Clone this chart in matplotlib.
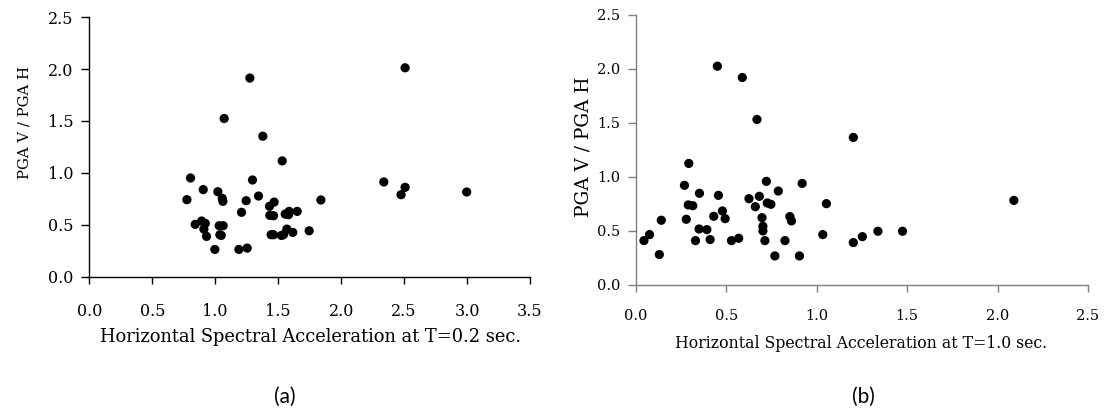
import matplotlib
matplotlib.use("Agg")
import matplotlib.pyplot as plt

# Panel (a): Horizontal spectral acceleration at T=0.2 s vs PGA V / PGA H
sa02 = [1.275, 2.508, 1.071, 1.378, 1.532, 0.804, 1.296, 2.339, 2.508, 2.476,
        2.997, 0.905, 1.021, 1.056, 1.061, 0.775, 1.246, 1.344, 1.468, 1.431,
        1.839, 1.209, 1.434, 1.463, 1.556, 1.587, 1.651, 1.582, 0.841, 0.892,
        0.921, 0.910, 0.931, 1.032, 1.063, 1.037, 1.048, 0.997, 1.188, 1.254,
        1.444, 1.463, 1.526, 1.542, 1.569, 1.616, 1.746]
ratio_a = [1.914, 2.013, 1.524, 1.353, 1.115, 0.950, 0.931, 0.912, 0.860, 0.789,
           0.815, 0.838, 0.818, 0.754, 0.725, 0.741, 0.731, 0.776, 0.718, 0.677,
           0.738, 0.619, 0.590, 0.586, 0.602, 0.628, 0.628, 0.596, 0.503, 0.535,
           0.512, 0.457, 0.387, 0.490, 0.490, 0.403, 0.396, 0.261, 0.261, 0.274,
           0.403, 0.403, 0.396, 0.403, 0.457, 0.425, 0.441]

# Panel (b): Horizontal spectral acceleration at T=1.0 s vs PGA V / PGA H
sa10 = [0.044, 0.075, 0.129, 0.140, 0.268, 0.292, 0.278, 0.289, 0.314, 0.329,
        0.351, 0.349, 0.392, 0.410, 0.430, 0.450, 0.456, 0.478, 0.493, 0.528,
        0.568, 0.588, 0.625, 0.660, 0.669, 0.682, 0.697, 0.702, 0.702, 0.713,
        0.721, 0.726, 0.746, 0.768, 0.787, 0.824, 0.851, 0.860, 0.904, 0.919,
        1.033, 1.053, 1.202, 1.202, 1.252, 1.338, 1.474, 2.090]
ratio_b = [0.407, 0.463, 0.278, 0.596, 0.920, 1.123, 0.605, 0.738, 0.731, 0.407,
           0.846, 0.515, 0.509, 0.417, 0.633, 2.025, 0.827, 0.682, 0.611, 0.407,
           0.429, 1.920, 0.796, 0.722, 1.531, 0.818, 0.620, 0.540, 0.497, 0.407,
           0.957, 0.756, 0.744, 0.265, 0.867, 0.407, 0.630, 0.590, 0.265, 0.938,
           0.463, 0.750, 1.364, 0.389, 0.444, 0.494, 0.494, 0.780]

xticks_a = [0.0, 0.5, 1.0, 1.5, 2.0, 2.5, 3.0, 3.5]
xticks_b = [0.0, 0.5, 1.0, 1.5, 2.0, 2.5]
yticks = [0.0, 0.5, 1.0, 1.5, 2.0, 2.5]

SERIF = ["DejaVu Serif"]
SANS = ["Lato", "DejaVu Sans"]

W, H = 1105, 416
fig = plt.figure(figsize=(W / 100, H / 100), dpi=100)
renderer = fig.canvas.get_renderer()

def px_axes(l, r, b, t):
    return [l / W, 1 - b / H, (r - l) / W, (b - t) / H]

ax_a = fig.add_axes(px_axes(89.3, 530, 276.5, 17.3))
ax_b = fig.add_axes(px_axes(636, 1088, 284.5, 15))

def fit_size(text, target_px, family, vertical=False):
    t = fig.text(0, 0, text, fontfamily=family, fontsize=10)
    bb = t.get_window_extent(renderer)
    t.remove()
    return 10 * target_px / bb.width

tick_size_a = fit_size("0.0", 25, SERIF)
tick_size_b = fit_size("0.0", 23, SERIF)

def style(ax, xt, color, xpad, tsize):
    for s in ("top", "right"):
        ax.spines[s].set_visible(False)
    for s in ("left", "bottom"):
        ax.spines[s].set_color(color)
        ax.spines[s].set_linewidth(1.0)
    ax.set_xlim(xt[0], xt[-1])
    ax.set_ylim(0, 2.5)
    ax.set_xticks(xt)
    ax.set_yticks(yticks)
    ax.set_xticklabels([f"{v:.1f}" for v in xt], fontfamily=SERIF, fontsize=tsize)
    ax.set_yticklabels([f"{v:.1f}" for v in yticks], fontfamily=SERIF, fontsize=tsize)
    ax.tick_params(axis="x", direction="out", length=5, width=1.0, color=color, pad=xpad)
    ax.tick_params(axis="y", direction="out", length=6, width=1.0, color=color, pad=5.5)
    ax.patch.set_alpha(0)

style(ax_a, xticks_a, "black", 14, tick_size_a)
style(ax_b, xticks_b, "#808080", 12.5, tick_size_b)

ax_a.scatter(sa02, ratio_a, s=44, color="black", edgecolors="none", zorder=3, clip_on=False)
ax_b.scatter(sa10, ratio_b, s=44, color="black", edgecolors="none", zorder=3, clip_on=False)

xl_a = "Horizontal Spectral Acceleration at T=0.2 sec."
xl_b = "Horizontal Spectral Acceleration at T=1.0 sec."
yl = "PGA V / PGA H"

ax_a.set_xlabel(xl_a, fontfamily=SERIF, fontsize=fit_size(xl_a, 424, SERIF))
ax_a.xaxis.set_label_coords(310 / W, 1 - 337 / H, transform=fig.transFigure)
ax_a.xaxis.label.set_va("center")
ax_b.set_xlabel(xl_b, fontfamily=SERIF, fontsize=fit_size(xl_b, 373, SERIF))
ax_b.xaxis.set_label_coords(861 / W, 1 - 343 / H, transform=fig.transFigure)
ax_b.xaxis.label.set_va("center")

ax_a.set_ylabel(yl, fontfamily=SERIF, fontsize=fit_size(yl, 112, SERIF))
ax_a.yaxis.set_label_coords(25 / W, 1 - 122 / H, transform=fig.transFigure)
ax_a.yaxis.label.set_va("center")
ax_b.set_ylabel(yl, fontfamily=SERIF, fontsize=fit_size(yl, 140, SERIF))
ax_b.yaxis.set_label_coords(584 / W, 1 - 147 / H, transform=fig.transFigure)
ax_b.yaxis.label.set_va("center")

fig.text(285 / W, 1 - 397 / H, "(a)", ha="center", va="center", fontfamily=SANS, fontsize=15)
fig.text(863 / W, 1 - 397 / H, "(b)", ha="center", va="center", fontfamily=SANS, fontsize=15)

fig.savefig("out.png", dpi=100)
